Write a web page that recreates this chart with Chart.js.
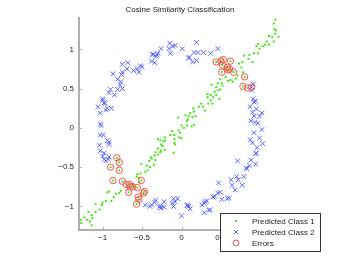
<!DOCTYPE html>
<html>
<head>
<meta charset="utf-8">
<script src="https://cdn.jsdelivr.net/npm/chart.js@4/dist/chart.umd.min.js"></script>
<style>
  html, body { margin: 0; padding: 0; background: #fff; }
  #wrap { width: 346px; height: 260px; }
</style>
</head>
<body>
<div id="wrap"><canvas id="c" width="346" height="260"></canvas></div>
<script>
const chartTitle = "Cosine Similarity Classification";
const seriesNames = ["Predicted Class 1", "Predicted Class 2", "Errors"];
const xTicks = [-1, -0.5, 0, 0.5, 1];
const yTicks = [-1, -0.5, 0, 0.5, 1];
const xRange = [-1.3, 1.3];
const yRange = [-1.3, 1.4];

// Predicted Class 1 (green dots)
const class1X = [1.19,1.17,1.18,1.20,1.19,1.15,1.11,1.23,1.17,1.08,1.11,1.06,1.03,0.97,0.95,0.99,0.97,0.92,0.86,0.85,0.79,0.77,0.90,0.73,0.76,0.78,0.71,0.69,0.62,0.59,0.65,0.56,0.49,0.51,0.46,0.52,0.44,0.38,0.42,0.46,0.49,0.33,0.37,0.44,0.40,0.48,0.37,0.33,0.39,0.34,0.30,0.25,0.27,0.22,0.15,0.16,0.11,0.18,0.05,0.09,0.08,0.14,0.16,0.07,-0.04,0.13,0.00,0.03,0.07,-0.04,-0.12,-0.02,-0.09,-0.03,0.00,-0.09,-0.14,-0.09,-0.21,-0.21,-0.27,-0.24,-0.30,-0.23,-0.26,-0.08,-0.30,-0.21,-0.26,-0.10,-0.30,-0.34,-0.27,-0.33,-0.38,-0.33,-0.35,-0.40,-0.39,-0.41,-0.51,-0.44,-0.43,-0.46,-0.52,-0.56,-0.57,-0.54,-0.54,-0.61,-0.77,-0.79,-0.83,-0.86,-0.92,-0.94,-0.89,-0.96,-1.00,-1.01,-1.09,-1.04,-1.09,-1.18,-1.14,-1.13,-1.23,-1.20,-1.16,-1.14,-1.21,-1.27,-1.28,
  0.44,0.50,0.53,0.62,0.52,0.58,0.59,0.61,0.51,0.66,0.80,0.78,0.84,-0.82,-0.79,-0.90,-0.79,-0.87,-0.75,-0.70,-0.66,-0.65,-0.62,-0.56,-0.51,-0.67,-0.47,-0.48,-0.55,-0.54,-0.57];
const class1Y = [1.38,1.33,1.26,1.24,1.20,1.16,1.17,1.16,1.10,1.10,1.06,1.06,1.04,1.07,1.04,1.01,0.95,0.95,0.93,0.88,0.92,0.84,0.84,0.82,0.77,0.71,0.67,0.63,0.61,0.60,0.59,0.65,0.62,0.57,0.57,0.54,0.52,0.55,0.46,0.48,0.49,0.43,0.42,0.42,0.39,0.37,0.35,0.39,0.31,0.31,0.22,0.31,0.27,0.27,0.25,0.21,0.19,0.15,0.16,0.15,0.11,0.14,0.04,0.03,0.13,0.02,0.03,0.00,0.09,-0.03,-0.04,-0.06,-0.09,-0.12,-0.13,-0.14,-0.09,-0.19,-0.12,-0.16,-0.16,-0.23,-0.14,-0.17,-0.21,-0.21,-0.26,-0.28,-0.29,-0.32,-0.34,-0.35,-0.31,-0.31,-0.39,-0.41,-0.47,-0.50,-0.37,-0.42,-0.46,-0.48,-0.54,-0.56,-0.58,-0.59,-0.62,-0.64,-0.69,-0.72,-0.80,-0.83,-0.84,-0.88,-0.81,-0.82,-0.93,-0.93,-0.95,-0.98,-0.97,-1.04,-1.07,-1.07,-1.11,-1.15,-1.14,-1.17,-1.19,-1.24,-1.30,-1.21,-1.17,
  0.84,0.85,0.87,0.85,0.80,0.77,0.74,0.75,0.71,0.71,0.65,0.53,0.51,-0.38,-0.44,-0.50,-0.54,-0.67,-0.68,-0.72,-0.72,-0.75,-0.75,-0.76,-0.67,-0.82,-0.81,-0.83,-0.88,-0.91,-0.97];

// Predicted Class 2 (blue crosses)
const class2X = [-1.06,-1.03,-1.00,-0.98,-0.97,-1.00,-0.96,-0.94,-0.89,-0.92,-0.90,-0.85,-0.87,-0.81,-0.81,-0.78,-0.77,-0.75,-0.76,-0.75,-0.75,-0.68,-0.69,-0.61,-0.56,-0.54,-0.52,-0.50,-0.38,-0.37,-0.31,-0.32,-0.34,-0.26,-0.36,-0.30,-0.15,-0.16,-0.08,-0.11,-0.14,0.01,0.09,0.19,0.16,0.21,0.28,0.37,0.10,0.14,0.19,0.46,
  -1.03,-1.02,-1.03,-0.99,-0.94,-0.92,-0.92,-1.04,-1.03,-0.98,-1.00,-0.98,-0.96,-0.92,-0.93,
  0.91,0.89,0.91,0.92,0.94,0.87,0.95,0.92,0.99,1.02,0.90,0.88,0.93,0.97,0.92,1.02,0.99,0.87,0.90,1.03,0.96,0.95,0.94,0.71,0.88,0.94,0.86,0.82,0.83,0.79,0.70,0.72,0.63,0.64,0.77,0.47,0.68,0.49,0.46,0.42,0.40,0.51,0.58,0.60,
  0.32,0.29,0.35,0.29,0.09,0.11,0.00,0.26,0.30,0.36,0.07,0.08,-0.46,-0.40,-0.34,-0.33,-0.38,-0.28,-0.27,-0.26,-0.22,-0.22,-0.12,-0.10,-0.10,-0.05,-0.08,0.89];
const class2Y = [0.27,0.19,0.35,0.32,0.31,0.37,0.23,0.25,0.25,0.45,0.49,0.42,0.69,0.62,0.49,0.55,0.59,0.50,0.68,0.81,0.71,0.83,0.75,0.73,0.75,0.71,0.79,0.78,0.85,0.93,0.93,0.91,0.83,1.01,0.94,0.95,1.08,1.01,1.05,1.04,0.95,1.01,0.89,1.09,0.96,0.96,0.96,0.95,0.90,0.84,0.86,1.01,
  0.05,0.03,-0.09,-0.09,-0.16,-0.18,-0.21,-0.22,-0.29,-0.32,-0.36,-0.40,-0.42,-0.37,-0.40,
  0.56,0.48,0.37,0.33,0.34,0.27,0.24,0.15,0.15,0.19,0.20,0.09,0.07,0.06,-0.06,-0.02,-0.13,-0.15,-0.19,-0.20,-0.25,-0.32,-0.33,-0.42,-0.41,-0.46,-0.48,-0.51,-0.52,-0.62,-0.62,-0.66,-0.66,-0.73,-0.73,-0.70,-0.79,-0.82,-0.83,-0.87,-0.88,-0.91,-0.90,-0.89,
  -0.93,-0.96,-1.05,-1.08,-1.00,-1.03,-1.12,-0.98,-0.94,-1.04,-0.99,-0.98,-0.98,-1.00,-0.95,-0.92,-0.98,-1.01,-0.99,-1.02,-1.01,-0.94,-0.96,-1.00,-0.90,-0.90,-0.94,0.52];

// Errors (red circles)
const errorX = [0.44,0.50,0.53,0.62,0.52,0.58,0.59,0.61,0.51,0.66,0.80,0.78,0.84,0.89,-0.82,-0.79,-0.90,-0.79,-0.87,-0.75,-0.70,-0.66,-0.65,-0.62,-0.56,-0.51,-0.67,-0.47,-0.48,-0.55,-0.54,-0.57];
const errorY = [0.84,0.85,0.87,0.85,0.80,0.77,0.74,0.75,0.71,0.71,0.65,0.53,0.51,0.52,-0.38,-0.44,-0.50,-0.54,-0.67,-0.68,-0.72,-0.72,-0.75,-0.75,-0.76,-0.67,-0.82,-0.81,-0.83,-0.88,-0.91,-0.97];

const GREEN = 'rgb(60,232,10)';
const BLUE = 'rgb(85,100,255)';
const RED = 'rgb(245,80,80)';
const AXIS = '#b0b0b0';
const FONT = '"Liberation Sans", Arial, sans-serif';

function pts(xs, ys) { return xs.map((x, i) => ({ x: x, y: ys[i] })); }
function fmt(v) { return v < 0 ? '\u2212' + String(Math.abs(v)) : String(v); }

const decor = {
  id: 'decor',
  afterDraw(chart) {
    const ctx = chart.ctx, a = chart.chartArea;
    const xs = chart.scales.x, ys = chart.scales.y;
    ctx.save();
    // inward tick marks
    ctx.strokeStyle = AXIS; ctx.lineWidth = 1;
    ctx.beginPath();
    xTicks.forEach(v => { const p = Math.round(xs.getPixelForValue(v)) + 0.5; ctx.moveTo(p, a.bottom); ctx.lineTo(p, a.bottom - 3); });
    yTicks.forEach(v => { const p = Math.round(ys.getPixelForValue(v)) + 0.5; ctx.moveTo(a.left, p); ctx.lineTo(a.left + 3, p); });
    ctx.stroke();
    // title
    ctx.fillStyle = '#222'; ctx.font = '8px ' + FONT;
    ctx.textAlign = 'center'; ctx.textBaseline = 'middle';
    ctx.fillText(chartTitle, 180, 10);
    // legend
    const lx = 220.5, ly = 213.5, lw = 100, lh = 38;
    ctx.fillStyle = '#fff'; ctx.fillRect(lx, ly, lw, lh);
    ctx.strokeStyle = '#333'; ctx.lineWidth = 1; ctx.strokeRect(lx, ly, lw, lh);
    const rows = [221, 232, 243], mx = 236;
    ctx.fillStyle = GREEN; ctx.fillRect(mx - 1, rows[0] - 1, 2, 2);
    ctx.strokeStyle = BLUE; ctx.beginPath();
    ctx.moveTo(mx - 2, rows[1] - 2); ctx.lineTo(mx + 2, rows[1] + 2);
    ctx.moveTo(mx - 2, rows[1] + 2); ctx.lineTo(mx + 2, rows[1] - 2); ctx.stroke();
    ctx.strokeStyle = RED; ctx.beginPath(); ctx.arc(mx, rows[2], 3, 0, Math.PI * 2); ctx.stroke();
    ctx.fillStyle = '#222'; ctx.textAlign = 'left';
    seriesNames.forEach((n, i) => ctx.fillText(n, 252, rows[i] + 0.5));
    ctx.restore();
  }
};

new Chart(document.getElementById('c'), {
  type: 'scatter',
  data: {
    datasets: [
      { label: seriesNames[0], data: pts(class1X, class1Y), order: 3, pointStyle: 'rect', pointRadius: 1.4, backgroundColor: GREEN, borderColor: GREEN, borderWidth: 0 },
      { label: seriesNames[1], data: pts(class2X, class2Y), order: 2, pointStyle: 'crossRot', pointRadius: 3.3, borderColor: BLUE, borderWidth: 1 },
      { label: seriesNames[2], data: pts(errorX, errorY), order: 1, pointStyle: 'circle', pointRadius: 3.2, backgroundColor: 'rgba(0,0,0,0)', borderColor: RED, borderWidth: 1 }
    ]
  },
  options: {
    responsive: false,
    animation: false,
    events: [],
    layout: { padding: { left: 0, right: 62, top: 18, bottom: 0 } },
    plugins: { legend: { display: false }, title: { display: false }, tooltip: { enabled: false } },
    scales: {
      x: {
        type: 'linear', min: xRange[0], max: xRange[1],
        afterFit(s) { s.height = 30; },
        afterBuildTicks(s) { s.ticks = xTicks.map(v => ({ value: v })); },
        grid: { display: false, drawTicks: false },
        border: { display: true, color: AXIS, width: 2 },
        ticks: { color: '#222', font: { size: 8, family: FONT }, padding: 3, maxRotation: 0, autoSkip: false, callback: v => fmt(v) }
      },
      y: {
        type: 'linear', min: yRange[0], max: yRange[1],
        afterFit(s) { s.width = 79; },
        afterBuildTicks(s) { s.ticks = yTicks.map(v => ({ value: v })); },
        grid: { display: false, drawTicks: false },
        border: { display: true, color: AXIS, width: 2 },
        ticks: { color: '#222', font: { size: 8, family: FONT }, padding: 5, autoSkip: false, callback: v => fmt(v) }
      }
    }
  },
  plugins: [decor]
});
</script>
</body>
</html>
